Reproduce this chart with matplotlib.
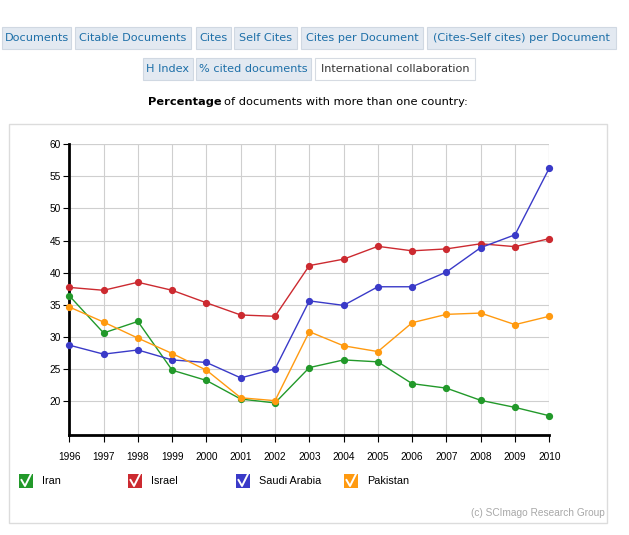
import matplotlib
matplotlib.use("Agg")
import matplotlib.pyplot as plt
from matplotlib.patches import Rectangle
from matplotlib.lines import Line2D

# values
years = list(range(1996, 2011))
iran = [36.4, 30.6, 32.4, 24.8, 23.2, 20.3, 19.7, 25.2, 26.4, 26.1, 22.7, 22.0, 20.1, 19.0, 17.7]
israel = [37.7, 37.25, 38.5, 37.25, 35.3, 33.4, 33.2, 41.1, 42.1, 44.1, 43.4, 43.7, 44.5, 44.05, 45.3]
saudi = [28.7, 27.3, 27.95, 26.4, 26.0, 23.6, 25.0, 35.6, 34.9, 37.8, 37.8, 40.1, 43.9, 45.9, 56.3]
pakistan = [34.65, 32.3, 29.8, 27.4, 24.8, 20.5, 20.05, 30.8, 28.6, 27.7, 32.2, 33.5, 33.7, 31.9, 33.2]

series_names = ["Iran", "Israel", "Saudi Arabia", "Pakistan"]
series_colors = ["#22992a", "#cc2a30", "#3a3ac8", "#ff9a10"]
yticks = [20, 25, 30, 35, 40, 45, 50, 55, 60]

row1 = ["Documents", "Citable Documents", "Cites", "Self Cites",
        "Cites per Document", "(Cites-Self cites) per Document"]
row2 = ["H Index", "% cited documents", "International collaboration"]

W, H = 629, 535
fig = plt.figure(figsize=(W / 100, H / 100), dpi=100)


def fx(x):
    return x / W


def fy(y):
    return 1 - y / H


def button(x0, x1, y0, y1, label, active=False):
    face = "white" if active else "#e3e9f1"
    edge = "#d6dbe2" if active else "#d0d8e2"
    fig.add_artist(Rectangle((fx(x0), fy(y1)), fx(x1 - x0), (y1 - y0) / H,
                             facecolor=face, edgecolor=edge, linewidth=0.8))
    fig.text(fx((x0 + x1) / 2), fy((y0 + y1) / 2), label, ha="center", va="center",
             fontsize=8.1, color="#333333" if active else "#1d6fa8",
             family="DejaVu Sans")


# tab buttons along the top
b1 = [(2, 71), (75, 191), (196, 231), (234, 297), (301, 423), (427, 616)]
for (a, b), lab in zip(b1, row1):
    button(a, b, 27, 49, lab)
b2 = [(143, 193), (196, 311), (315, 475)]
for i, ((a, b), lab) in enumerate(zip(b2, row2)):
    button(a, b, 58, 80, lab, active=(i == 2))

# heading with bold first word
t = fig.text(fx(148), fy(102), "Percentage", fontsize=8.2, fontweight="bold",
             va="center", ha="left", family="DejaVu Sans")
fig.canvas.draw()
bb = t.get_window_extent()
fig.text(bb.x1 / W + 0.004, fy(102), "of documents with more than one country:",
         fontsize=8.2, va="center", ha="left", family="DejaVu Sans")

# chart panel frame
fig.add_artist(Rectangle((fx(9), fy(523)), fx(598), (523 - 124) / H,
                         facecolor="none", edgecolor="#dcdcdc", linewidth=1))

ax = fig.add_axes([fx(69.3), fy(435), fx(480), (435 - 144.3) / H])
for name, vals, c in zip(series_names, [iran, israel, saudi, pakistan], series_colors):
    ax.plot(years, vals, color=c, linewidth=1, marker="o", markersize=4.2,
            clip_on=False, zorder=3, label=name)

ax.set_xlim(1996, 2010)
ax.set_ylim(14.7, 60)
ax.set_xticks(years)
ax.set_yticks(yticks)
ax.grid(True, color="#cfcfcf", linewidth=0.8)
ax.set_axisbelow(True)
ax.axhline(60, color="#cfcfcf", linewidth=0.8, zorder=0)
ax.axvline(2010, color="#cfcfcf", linewidth=0.8, zorder=0)
for s in ["top", "right"]:
    ax.spines[s].set_visible(False)
for s in ["left", "bottom"]:
    ax.spines[s].set_linewidth(2.0)
    ax.spines[s].set_color("black")
ax.tick_params(axis="y", length=4, width=0.8, labelsize=7.3, pad=2)
ax.tick_params(axis="x", length=5, width=0.8, labelsize=7.3, pad=7)
for lab in ax.get_xticklabels() + ax.get_yticklabels():
    lab.set_family("Liberation Sans")

# legend with checkbox squares
leg_x = [19, 128, 236, 344]
for x, name, c in zip(leg_x, series_names, series_colors):
    fig.add_artist(Rectangle((fx(x), fy(488)), fx(14), 14 / H,
                             facecolor=c, edgecolor="none"))
    fig.add_artist(Line2D([fx(x + 2.5), fx(x + 6), fx(x + 12)],
                          [fy(480), fy(486), fy(474)],
                          color="white", linewidth=1.4))
    fig.text(fx(x + 23), fy(481), name, fontsize=7.8, va="center", ha="left",
             family="Liberation Sans")

fig.text(fx(605), fy(513), "(c) SCImago Research Group", fontsize=7.3,
         color="#a8a8a8", ha="right", va="center", family="Liberation Sans")

fig.savefig("out.png", dpi=100)
